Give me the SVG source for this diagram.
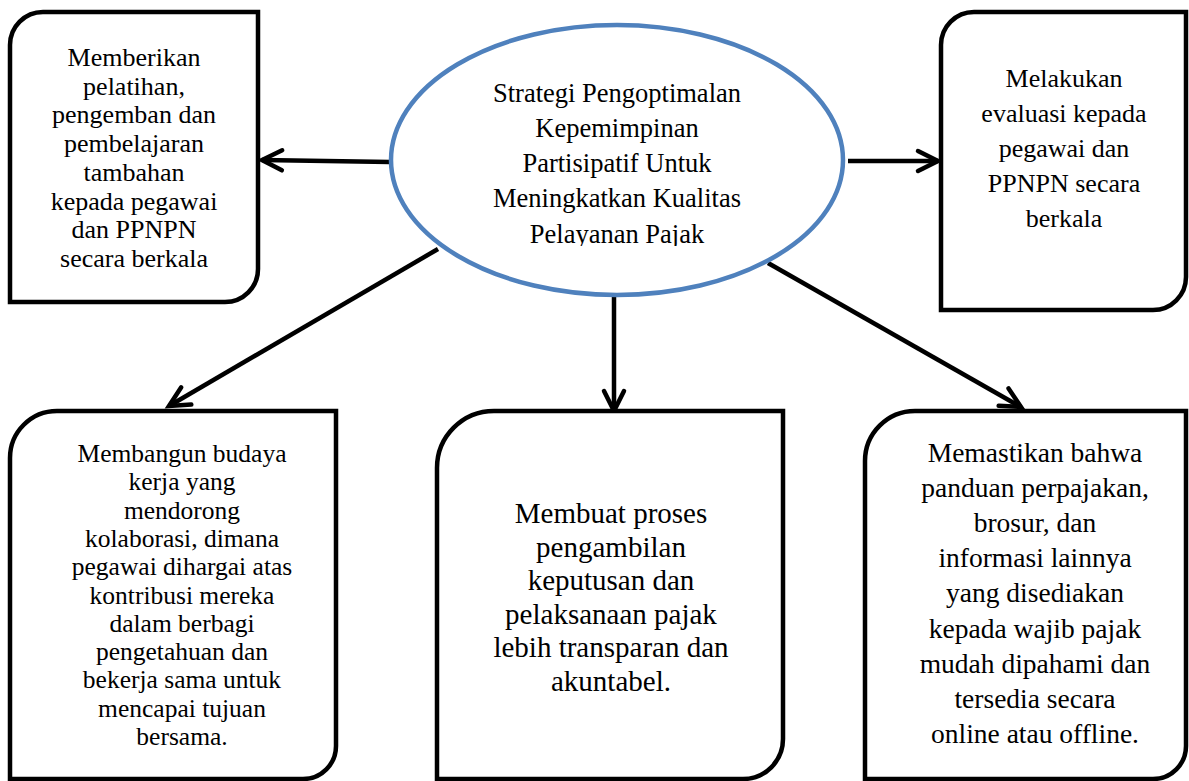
<svg xmlns="http://www.w3.org/2000/svg" width="1189" height="781" viewBox="0 0 1189 781">
  <style>
    .box { fill: #ffffff; stroke: #000000; stroke-width: 4.5; }
    .ell { fill: #ffffff; stroke: #4f81bd; stroke-width: 4.5; }
    .conn { stroke: #000000; stroke-width: 4.5; fill: none; marker-end: url(#arr); }
    text { font-family: "Liberation Serif", "Times New Roman", serif; fill: #000000; text-anchor: middle; }
    .t26 { font-size: 26px; }
    .t25 { font-size: 25.5px; }
    .t27 { font-size: 27.5px; }
    .t29 { font-size: 29px; }
    .te { font-size: 26.5px; }
  </style>
  <defs>
    <marker id="arr" markerUnits="userSpaceOnUse" markerWidth="40" markerHeight="40" viewBox="-30 -20 40 40" refX="0" refY="0" orient="auto" overflow="visible">
      <path d="M-20,-10 L0,0 L-20,10" fill="none" stroke="#000000" stroke-width="4.5" stroke-linecap="round" stroke-linejoin="miter"/>
    </marker>
    <clipPath id="ellclip">
      <rect x="380" y="20" width="480" height="226"/>
    </clipPath>
  </defs>
  <rect width="1189" height="781" fill="#ffffff"/>

  <g id="connectors">
    <line class="conn" x1="390" y1="162" x2="262" y2="160"/>
    <line class="conn" x1="848" y1="161" x2="938" y2="161"/>
    <line class="conn" x1="438" y1="249" x2="169" y2="406"/>
    <line class="conn" x1="614" y1="297" x2="614" y2="411"/>
    <line class="conn" x1="768" y1="263" x2="1021" y2="407"/>
  </g>

  <g id="center">
    <ellipse class="ell" cx="617" cy="160" rx="226" ry="135"/>
    <g clip-path="url(#ellclip)">
      <text class="te" x="617" y="102">Strategi Pengoptimalan</text>
      <text class="te" x="617" y="137">Kepemimpinan</text>
      <text class="te" x="617" y="172">Partisipatif Untuk</text>
      <text class="te" x="617" y="207">Meningkatkan Kualitas</text>
      <text class="te" x="617" y="243">Pelayanan Pajak</text>
    </g>
  </g>

  <g id="box-pelatihan">
    <path class="box" d="M43,12 H258 V269 A33,33 0 0 1 225,302 H10 V45 A33,33 0 0 1 43,12 Z"/>
    <text class="t26" x="134" y="66">Memberikan</text>
    <text class="t26" x="134" y="94.7">pelatihan,</text>
    <text class="t26" x="134" y="123.4">pengemban dan</text>
    <text class="t26" x="134" y="152.1">pembelajaran</text>
    <text class="t26" x="134" y="180.8">tambahan</text>
    <text class="t26" x="134" y="209.5">kepada pegawai</text>
    <text class="t26" x="134" y="238.2">dan PPNPN</text>
    <text class="t26" x="134" y="266.9">secara berkala</text>
  </g>

  <g id="box-evaluasi">
    <path class="box" d="M974,12 H1186 V277 A33,33 0 0 1 1153,310 H941 V45 A33,33 0 0 1 974,12 Z"/>
    <text class="t26" x="1064" y="87">Melakukan</text>
    <text class="t26" x="1064" y="122">evaluasi kepada</text>
    <text class="t26" x="1064" y="157">pegawai dan</text>
    <text class="t26" x="1064" y="192">PPNPN secara</text>
    <text class="t26" x="1064" y="227">berkala</text>
  </g>

  <g id="box-budaya">
    <path class="box" d="M57,411 H336 V746 A33,33 0 0 1 303,779 H10 V458 A47,47 0 0 1 57,411 Z"/>
    <text class="t25" x="182" y="462">Membangun budaya</text>
    <text class="t25" x="182" y="490.3">kerja yang</text>
    <text class="t25" x="182" y="518.6">mendorong</text>
    <text class="t25" x="182" y="546.9">kolaborasi, dimana</text>
    <text class="t25" x="182" y="575.2">pegawai dihargai atas</text>
    <text class="t25" x="182" y="603.5">kontribusi mereka</text>
    <text class="t25" x="182" y="631.8">dalam berbagi</text>
    <text class="t25" x="182" y="660.1">pengetahuan dan</text>
    <text class="t25" x="182" y="688.4">bekerja sama untuk</text>
    <text class="t25" x="182" y="716.7">mencapai tujuan</text>
    <text class="t25" x="182" y="745">bersama.</text>
  </g>

  <g id="box-transparan">
    <path class="box" d="M494,411 H783 V739 A40,40 0 0 1 743,779 H437 V468 A57,57 0 0 1 494,411 Z"/>
    <text class="t29" x="611" y="523">Membuat proses</text>
    <text class="t29" x="611" y="556.6">pengambilan</text>
    <text class="t29" x="611" y="590.2">keputusan dan</text>
    <text class="t29" x="611" y="623.8">pelaksanaan pajak</text>
    <text class="t29" x="611" y="657.4">lebih transparan dan</text>
    <text class="t29" x="611" y="691">akuntabel.</text>
  </g>

  <g id="box-informasi">
    <path class="box" d="M915,411 H1186 V746 A33,33 0 0 1 1153,779 H865 V461 A50,50 0 0 1 915,411 Z"/>
    <text class="t27" x="1035" y="462">Memastikan bahwa</text>
    <text class="t27" x="1035" y="497.1">panduan perpajakan,</text>
    <text class="t27" x="1035" y="532.2">brosur, dan</text>
    <text class="t27" x="1035" y="567.3">informasi lainnya</text>
    <text class="t27" x="1035" y="602.4">yang disediakan</text>
    <text class="t27" x="1035" y="637.5">kepada wajib pajak</text>
    <text class="t27" x="1035" y="672.6">mudah dipahami dan</text>
    <text class="t27" x="1035" y="707.7">tersedia secara</text>
    <text class="t27" x="1035" y="742.8">online atau offline.</text>
  </g>
</svg>
